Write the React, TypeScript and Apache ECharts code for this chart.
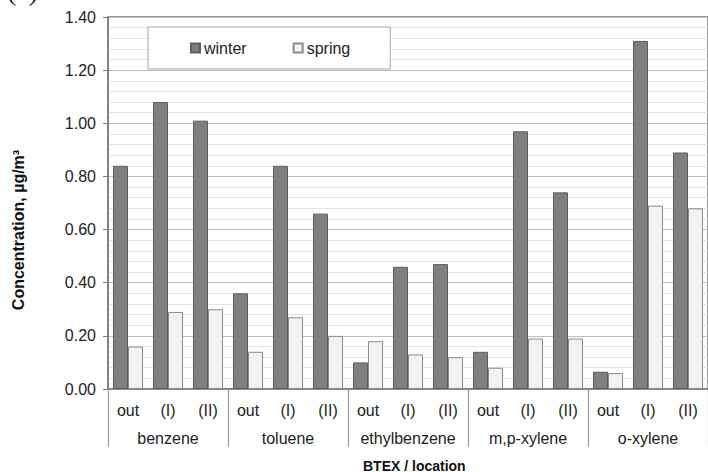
import React, { useEffect, useRef } from "react";
import * as echarts from "echarts";

const groups = ["benzene", "toluene", "ethylbenzene", "m,p-xylene", "o-xylene"];
const locations = ["out", "(I)", "(II)"];
const winter = [0.84, 1.08, 1.01, 0.36, 0.84, 0.66, 0.1, 0.46, 0.47, 0.14, 0.97, 0.74, 0.065, 1.31, 0.89];
const spring = [0.16, 0.29, 0.3, 0.14, 0.27, 0.2, 0.18, 0.13, 0.12, 0.08, 0.19, 0.19, 0.06, 0.69, 0.68];
const yTicks = { min: 0, max: 1.4, interval: 0.2 };
const seriesNames = ["winter", "spring"];
const yTitle = "Concentration, µg/m³";
const xTitle = "BTEX / location";
const panelLabel = "(a)";

const FONT = "'Liberation Sans', Arial, sans-serif";

export default function App() {
  const ref = useRef<HTMLDivElement>(null);
  useEffect(() => {
    if (!ref.current) return;
    const chart = echarts.init(ref.current, null, { renderer: "svg" });
    const categories = groups.flatMap(() => locations);
    chart.setOption({
      animation: false,
      backgroundColor: "#ffffff",
      textStyle: { fontFamily: FONT },
      grid: { left: 108, top: 17, width: 610, height: 372, show: true, borderColor: "#7a7a7a", borderWidth: 1.5, backgroundColor: "transparent" },
      legend: {
        data: seriesNames,
        left: 148,
        top: 27,
        padding: [13, 40, 13, 42],
        itemWidth: 9,
        itemHeight: 9,
        itemGap: 46,
        icon: "rect",
        backgroundColor: "#ffffff",
        borderColor: "#a6a6a6",
        borderWidth: 1,
        textStyle: { fontFamily: FONT, fontSize: 16, color: "#222", padding: [0, 0, 0, -1] },
        z: 6,
      },
      xAxis: [
        {
          type: "category",
          data: categories,
          position: "bottom",
          axisLine: { show: true, lineStyle: { color: "#7a7a7a", width: 1.5 } },
          axisTick: { show: false },
          axisLabel: { interval: 0, fontFamily: FONT, fontSize: 16, color: "#222", margin: 13 },
          splitLine: { show: false },
        },
        {
          type: "category",
          data: groups,
          position: "bottom",
          axisLine: { show: false },
          axisTick: { show: true, length: 58, interval: 0, lineStyle: { color: "#9a9a9a", width: 1.2 } },
          axisLabel: { interval: 0, fontFamily: FONT, fontSize: 16, color: "#222", margin: 41 },
          splitLine: { show: false },
        },
      ],
      yAxis: {
        type: "value",
        min: yTicks.min,
        max: yTicks.max,
        interval: yTicks.interval,
        axisLine: { show: true, lineStyle: { color: "#7a7a7a", width: 1.5 } },
        axisTick: { show: true, inside: false, length: 5, lineStyle: { color: "#7a7a7a" } },
        axisLabel: { fontFamily: FONT, fontSize: 16, color: "#222", margin: 12, formatter: (v: number) => v.toFixed(2) },
        splitLine: { show: true, lineStyle: { color: "#bdbdbd", width: 1 } },
        minorTick: { show: false, splitNumber: 5 },
        minorSplitLine: { show: true, lineStyle: { color: "#e2e2e2", width: 1 } },
      },
      graphic: [
        {
          type: "text",
          x: 18,
          y: 230,
          rotation: Math.PI / 2,
          style: { text: yTitle, font: `bold 16px ${FONT}`, fill: "#111", align: "center", verticalAlign: "middle" },
        },
        {
          type: "text",
          x: 363,
          y: 465.5,
          style: { text: xTitle, font: `bold 14px ${FONT}`, fill: "#111", align: "left", verticalAlign: "middle" },
        },
        {
          type: "text",
          x: 7,
          y: 4,
          style: { text: panelLabel, font: `28px 'Liberation Serif', serif`, fill: "#222", align: "left", verticalAlign: "bottom" },
        },
      ],
      series: [
        {
          name: seriesNames[0],
          type: "bar",
          data: winter,
          barWidth: 15,
          barGap: "0%",
          itemStyle: { color: "#7f7f7f", borderColor: "#5e5e5e", borderWidth: 1 },
        },
        {
          name: seriesNames[1],
          type: "bar",
          data: spring,
          barWidth: 15,
          barGap: "0%",
          itemStyle: { color: "#f2f2f2", borderColor: "#8a8a8a", borderWidth: 1 },
        },
      ],
    });
    return () => chart.dispose();
  }, []);
  return <div ref={ref} style={{ position: "absolute", left: 0, top: 0, width: 708, height: 472 }} />;
}
